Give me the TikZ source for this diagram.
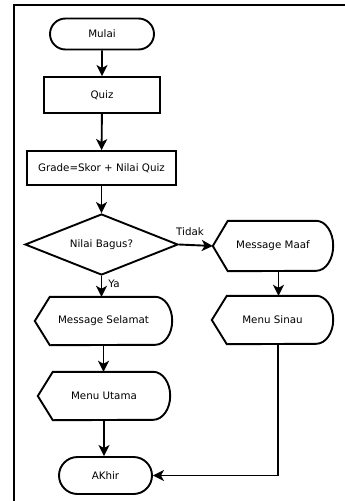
\documentclass[tikz,border=0pt]{standalone}
\usepackage{fontspec}
\setmainfont{DejaVu Sans}
\usetikzlibrary{shapes.geometric,shapes.misc,arrows.meta,calc}
\tikzset{
  base/.style={draw=none,inner sep=0pt,font=\fontsize{10.3}{12}\selectfont},
  term/.style={base,draw,rounded rectangle,line width=1.9pt},
  proc/.style={base,draw,rectangle,line width=1.9pt},
  deci/.style={base,draw,diamond,line width=1.9pt},
  disp/.style={base,rectangle},
  outline/.style={line width=1.9pt,line join=miter},
  conn/.style={line width=1.9pt,-{Stealth[length=11pt,width=11pt,inset=3pt]}},
  lbl/.style={font=\fontsize{10.3}{12}\selectfont,inner sep=0pt}
}
\newcommand{\dispoutline}[2]{% name, half height
  \draw[outline] (#1.west) -- ($(#1.north west)+(15pt,0)$) -- ($(#1.north east)+(-17pt,0)$)
    arc[start angle=90,end angle=-90,x radius=17pt,y radius=#2pt]
    -- ($(#1.south west)+(15pt,0)$) -- cycle;}
\begin{document}
\begin{tikzpicture}[x=1pt,y=1pt]
\useasboundingbox (0,0) rectangle (345,-501);
\draw[line width=2.4pt] (14,-501) -- (14,-5) -- (345,-5);
\node[term,minimum width=104pt,minimum height=31pt] (mulai) at (102,-34) {Mulai};
\node[proc,minimum width=116pt,minimum height=36pt] (quiz) at (102,-95) {Quiz};
\node[proc,minimum width=149pt,minimum height=34pt] (grade) at (101.5,-168) {Grade=Skor + Nilai Quiz};
\node[deci,minimum width=153pt,minimum height=61pt,aspect=2.5] (dec) at (101.5,-244.5) {Nilai Bagus?};
\node[disp,minimum width=120pt,minimum height=50pt] (maaf) at (273,-246) {Message Maaf};
\node[disp,minimum width=121pt,minimum height=48pt] (sinau) at (272.5,-320) {Menu Sinau};
\node[disp,minimum width=137pt,minimum height=48pt] (selamat) at (103.5,-321) {Message Selamat};
\node[disp,minimum width=132pt,minimum height=48pt] (utama) at (104,-396) {Menu Utama};
\node[term,minimum width=93pt,minimum height=37pt] (akhir) at (105.5,-475.5) {AKhir};
\dispoutline{maaf}{25}
\dispoutline{sinau}{24}
\dispoutline{selamat}{24}
\dispoutline{utama}{24}
\draw[conn] (mulai) -- (quiz);
\draw[conn] (quiz) -- (grade);
\draw[conn] (grade) -- (dec);
\draw[conn] (dec.south) -- (dec.south |- selamat.north);
\draw[conn] (dec.east) -- (maaf.west);
\draw[conn] ([xshift=5.5pt]maaf.south) -- ([xshift=5.5pt]maaf.south |- sinau.north);
\draw[conn] (selamat.south) -- (selamat.south |- utama.north);
\draw[conn] (utama.south) -- (utama.south |- akhir.north);
\draw[conn] ([xshift=5.5pt]sinau.south) |- (akhir.east);
\node[lbl] (tidak) at (190,-232) {Tidak};
\node[lbl] (ya) at (114,-284) {Ya};
\end{tikzpicture}
\end{document}
